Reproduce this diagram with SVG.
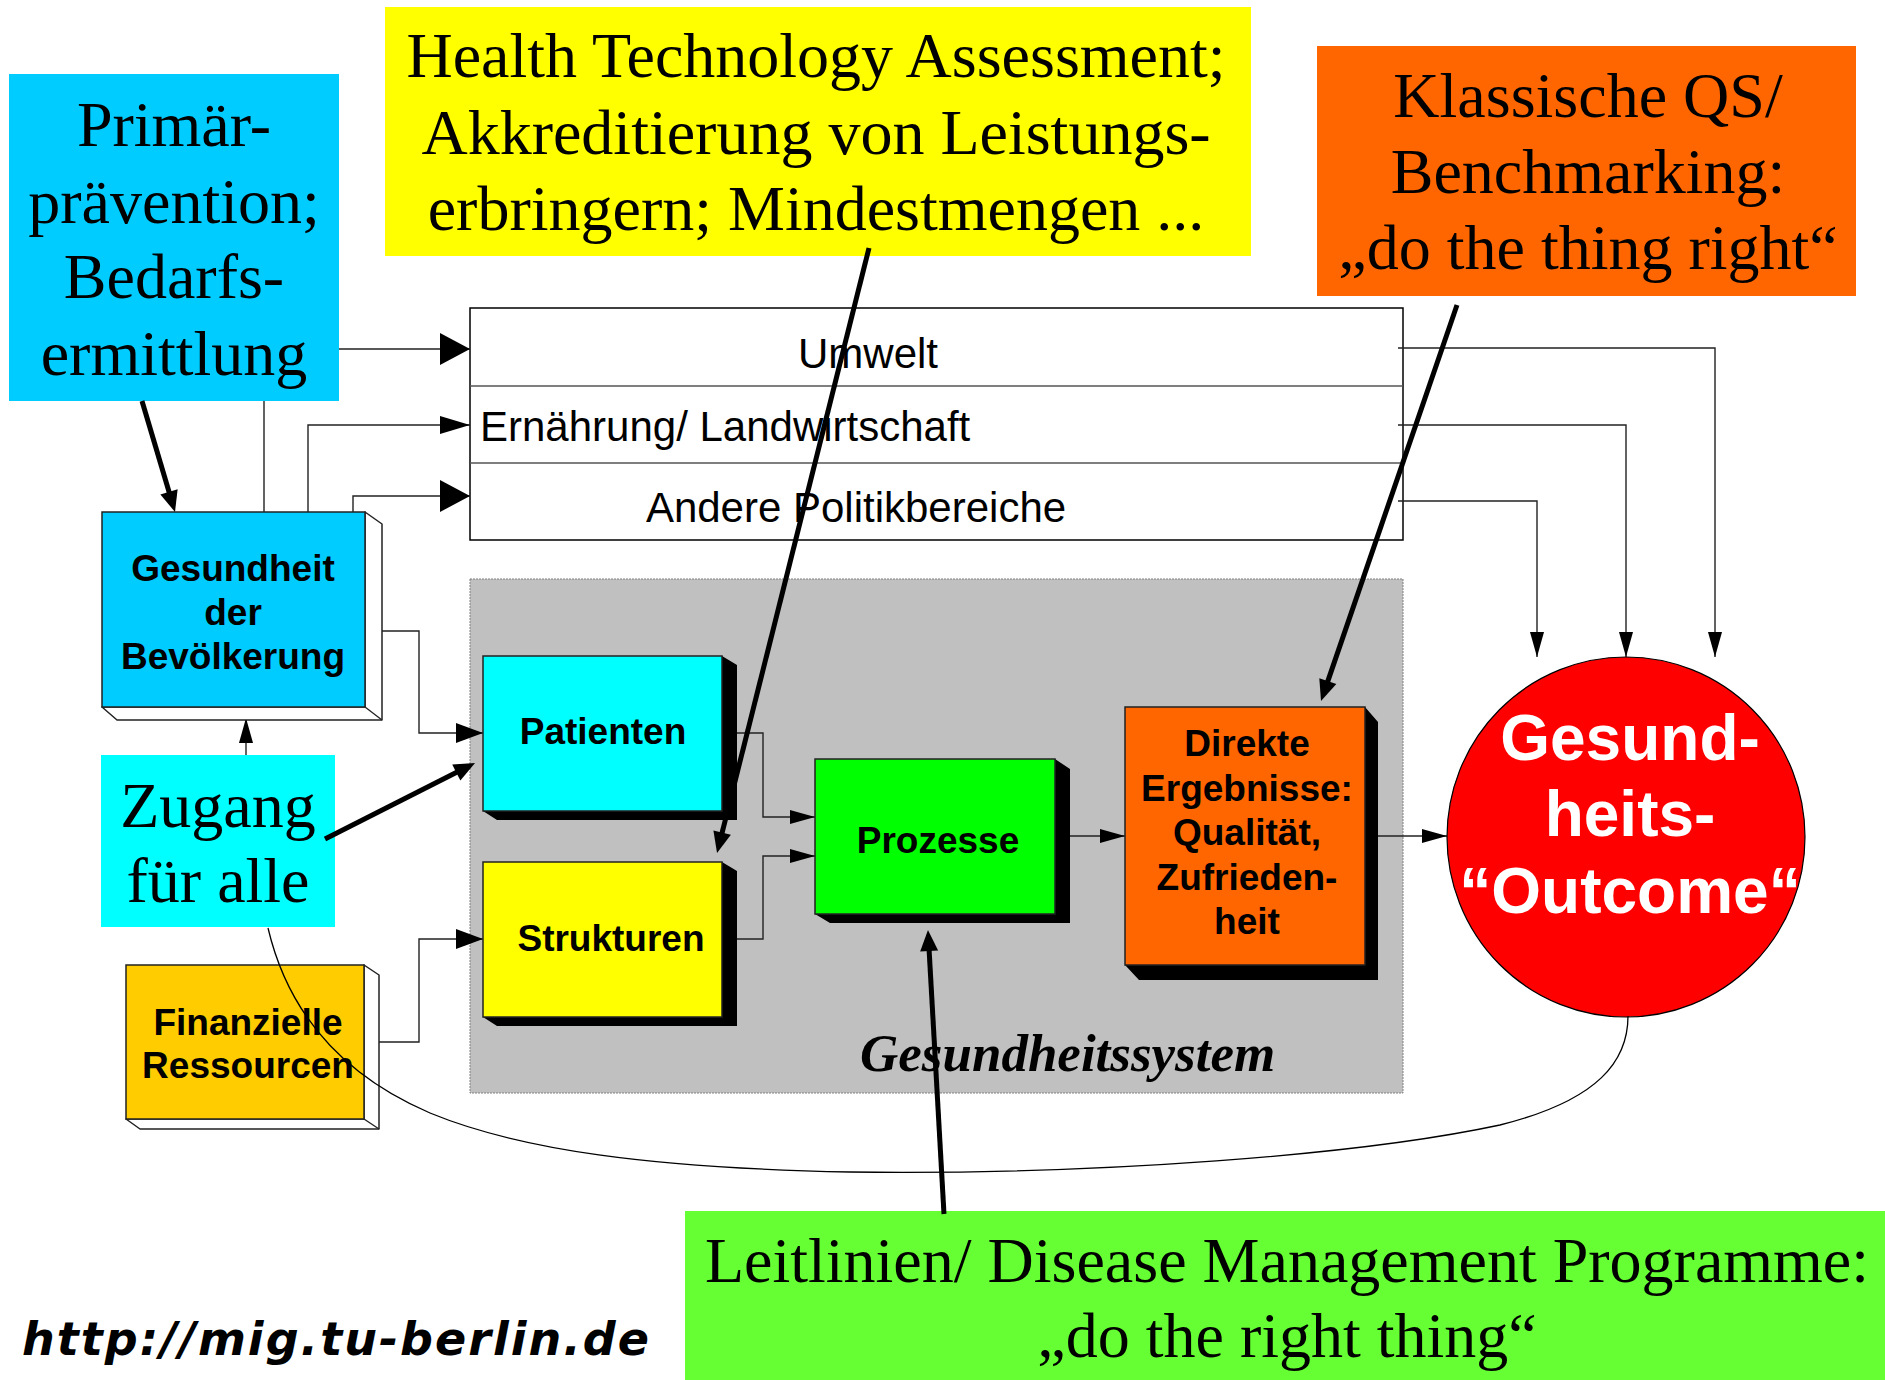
<svg xmlns="http://www.w3.org/2000/svg" width="1885" height="1380" viewBox="0 0 1885 1380">
<style>
.serif{font-family:"Liberation Serif","Times New Roman",serif;font-size:64px;fill:#000;text-anchor:middle}
.lbl{font-family:"Liberation Sans",Arial,sans-serif;font-size:37px;font-weight:bold;fill:#000;text-anchor:middle}
.row{font-family:"Liberation Sans",Arial,sans-serif;font-size:42px;fill:#000}
.out{font-family:"Liberation Sans",Arial,sans-serif;font-size:64px;font-weight:bold;fill:#fff;text-anchor:middle}
.thin{fill:none;stroke:#222;stroke-width:1.4}
.thick{fill:none;stroke:#000;stroke-width:5}
.face{stroke:#222;stroke-width:1.5}
.ext{fill:#fff;stroke:#222;stroke-width:1.5;stroke-linejoin:round}
.shadow{fill:#000}
</style>
<defs>
<marker id="arrS" markerUnits="userSpaceOnUse" markerWidth="26" markerHeight="16" refX="25" refY="7" orient="auto" overflow="visible"><path d="M0,0 L25,7 L0,14 z" fill="#000"/></marker>
<marker id="arrM" markerUnits="userSpaceOnUse" markerWidth="27" markerHeight="20" refX="27" refY="10" orient="auto" overflow="visible"><path d="M0,0 L27,10 L0,20 z" fill="#000"/></marker>
<marker id="arrBig" markerUnits="userSpaceOnUse" markerWidth="30" markerHeight="34" refX="30" refY="16" orient="auto" overflow="visible"><path d="M0,0 L30,16 L0,32 z" fill="#000"/></marker>
<marker id="arrE" markerUnits="userSpaceOnUse" markerWidth="30" markerHeight="18" refX="30" refY="9" orient="auto" overflow="visible"><path d="M0,0 L30,9 L0,18 z" fill="#000"/></marker>
<marker id="arrT" markerUnits="userSpaceOnUse" markerWidth="22" markerHeight="18" refX="1" refY="9" orient="auto" overflow="visible"><path d="M0,0 L21,9 L0,18 z" fill="#000"/></marker>
</defs>
<rect width="1885" height="1380" fill="#fff"/>

<g id="gesundheitssystem">
<rect x="470" y="579" width="933" height="514" fill="#C0C0C0" stroke="#808080" stroke-width="1" stroke-dasharray="2,1"/>
<text x="860" y="1071" font-family="'Liberation Serif','Times New Roman',serif" font-size="53" font-weight="bold" font-style="italic" fill="#000">Gesundheitssystem</text>
</g>

<g id="politikbereiche">
<rect x="470" y="308" width="933" height="232" fill="#fff" stroke="#000" stroke-width="1.5"/>
<line x1="470" y1="386" x2="1403" y2="386" stroke="#555" stroke-width="1.5"/>
<line x1="470" y1="463" x2="1403" y2="463" stroke="#555" stroke-width="1.5"/>
<text class="row" x="868" y="368" text-anchor="middle">Umwelt</text>
<text class="row" x="480" y="441">Ernährung/ Landwirtschaft</text>
<text class="row" x="856" y="522" text-anchor="middle">Andere Politikbereiche</text>
</g>

<g id="connectors">
<path class="thin" d="M264,512 V349 H470" marker-end="url(#arrBig)"/>
<path class="thin" d="M308,512 V425 H470" marker-end="url(#arrE)"/>
<path class="thin" d="M353,512 V496 H470" marker-end="url(#arrBig)"/>
<path class="thin" d="M377,631 H419 V733 H483" marker-end="url(#arrM)"/>
<path class="thin" d="M378,1042 H419 V939 H483" marker-end="url(#arrM)"/>
<path class="thin" d="M246,755 V718" marker-end="url(#arrS)"/>
<path class="thin" d="M737,733 H763 V817 H815" marker-end="url(#arrS)"/>
<path class="thin" d="M737,939 H763 V856 H815" marker-end="url(#arrS)"/>
<path class="thin" d="M1070,836 H1125" marker-end="url(#arrS)"/>
<path class="thin" d="M1378,836 H1447" marker-end="url(#arrS)"/>
<path class="thin" d="M1398,348 H1715 V657" marker-end="url(#arrS)"/>
<path class="thin" d="M1398,425 H1626 V657" marker-end="url(#arrS)"/>
<path class="thin" d="M1398,501 H1537 V657" marker-end="url(#arrS)"/>
</g>

<g id="primaerpraevention">
<rect x="9" y="74" width="330" height="327" fill="#00CCFF"/>
<text class="serif" x="174" y="146">Primär-</text>
<text class="serif" x="174" y="223">prävention;</text>
<text class="serif" x="174" y="298">Bedarfs-</text>
<text class="serif" x="174" y="375">ermittlung</text>
</g>

<g id="hta">
<rect x="385" y="7" width="866" height="249" fill="#FFFF00"/>
<text class="serif" x="816" y="77">Health Technology Assessment;</text>
<text class="serif" x="816" y="154">Akkreditierung von Leistungs-</text>
<text class="serif" x="816" y="230">erbringern; Mindestmengen ...</text>
</g>

<g id="klassische-qs">
<rect x="1317" y="46" width="539" height="250" fill="#FF6600"/>
<text class="serif" x="1588" y="117">Klassische QS/</text>
<text class="serif" x="1588" y="193">Benchmarking:</text>
<text class="serif" x="1588" y="269">„do the thing right“</text>
</g>

<g id="gesundheit-bevoelkerung">
<polygon class="ext" points="365,512 382,524 382,720 117,720 102,707 365,707"/>
<line x1="365" y1="707" x2="382" y2="720" stroke="#222" stroke-width="1.3"/>
<rect class="face" x="102" y="512" width="263" height="195" fill="#00CCFF"/>
<text class="lbl" x="233" y="581">Gesundheit</text>
<text class="lbl" x="233" y="625">der</text>
<text class="lbl" x="233" y="669">Bevölkerung</text>
</g>

<g id="zugang">
<rect x="101" y="755" width="234" height="172" fill="#00FFFF"/>
<text class="serif" x="218" y="827">Zugang</text>
<text class="serif" x="218" y="902">für alle</text>
</g>

<g id="finanzielle-ressourcen">
<polygon class="ext" points="364,965 379,975 379,1129 140,1129 126,1119 364,1119"/>
<line x1="364" y1="1119" x2="379" y2="1129" stroke="#222" stroke-width="1.3"/>
<rect class="face" x="126" y="965" width="238" height="154" fill="#FFCC00"/>
<text class="lbl" x="248" y="1035">Finanzielle</text>
<text class="lbl" x="248" y="1078">Ressourcen</text>
</g>

<g id="patienten">
<polygon class="shadow" points="722,656 737,665 737,820 497,820 483,811 722,811"/>
<rect class="face" x="483" y="656" width="239" height="155" fill="#00FFFF"/>
<text class="lbl" x="603" y="744">Patienten</text>
</g>

<g id="strukturen">
<polygon class="shadow" points="722,862 737,871 737,1026 497,1026 483,1017 722,1017"/>
<rect class="face" x="483" y="862" width="239" height="155" fill="#FFFF00"/>
<text class="lbl" x="611" y="951">Strukturen</text>
</g>

<g id="prozesse">
<polygon class="shadow" points="1055,759 1070,769 1070,923 830,923 815,914 1055,914"/>
<rect class="face" x="815" y="759" width="240" height="155" fill="#00FF00"/>
<text class="lbl" x="938" y="853">Prozesse</text>
</g>

<g id="direkte-ergebnisse">
<polygon class="shadow" points="1365,707 1378,722 1378,980 1139,980 1125,965 1365,965"/>
<rect class="face" x="1125" y="707" width="240" height="258" fill="#FF6600"/>
<text class="lbl" x="1247" y="756">Direkte</text>
<text class="lbl" x="1247" y="801">Ergebnisse:</text>
<text class="lbl" x="1247" y="845">Qualität,</text>
<text class="lbl" x="1247" y="890">Zufrieden-</text>
<text class="lbl" x="1247" y="934">heit</text>
</g>

<g id="gesundheits-outcome">
<ellipse cx="1626" cy="837" rx="179" ry="180" fill="#FF0000" stroke="#000" stroke-width="1.2"/>
<text class="out" x="1630" y="760">Gesund-</text>
<text class="out" x="1630" y="836">heits-</text>
<text class="out" x="1630" y="913">“Outcome“</text>
</g>

<g id="leitlinien">
<rect x="685" y="1211" width="1200" height="169" fill="#66FF33"/>
<text class="serif" x="1287" y="1282">Leitlinien/ Disease Management Programme:</text>
<text class="serif" x="1287" y="1357">„do the right thing“</text>
</g>

<g id="url">
<text x="22" y="1355" font-family="'DejaVu Sans',Verdana,sans-serif" font-size="46" font-weight="bold" font-style="italic" textLength="627" lengthAdjust="spacing" fill="#000">http://mig.tu-berlin.de</text>
</g>

<g id="connectors-overlay">
<path fill="none" stroke="#000" stroke-width="1.3" d="M268,928 C285,1000 330,1070 430,1113 C520,1150 650,1168 850,1172 C1100,1175 1360,1155 1500,1125 C1600,1100 1628,1060 1628,1016"/>
<line class="thick" x1="142" y1="401" x2="169.3" y2="492.8" marker-end="url(#arrT)"/>
<line class="thick" x1="869" y1="248" x2="721.9" y2="833.6" marker-end="url(#arrT)"/>
<line class="thick" x1="325" y1="839" x2="457.2" y2="772" marker-end="url(#arrT)"/>
<line class="thick" x1="1457" y1="305" x2="1327.5" y2="682.1" marker-end="url(#arrT)"/>
<line class="thick" x1="944" y1="1214" x2="929.1" y2="950" marker-end="url(#arrT)"/>
</g>
</svg>
